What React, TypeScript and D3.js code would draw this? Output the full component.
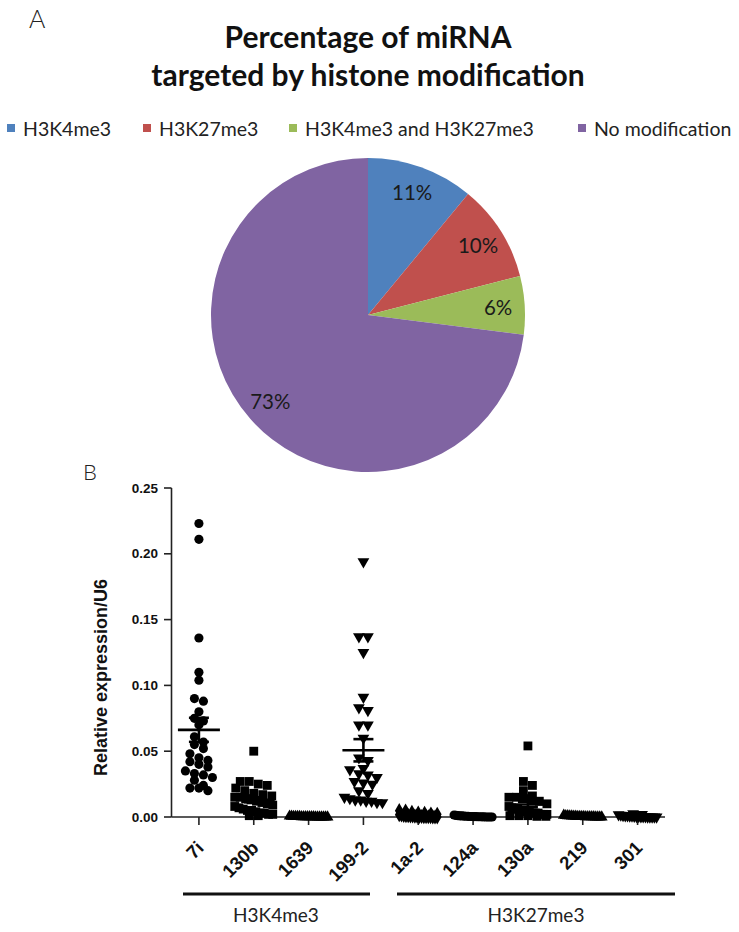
import React from 'react';
import * as d3 from 'd3';

// Panel A: pie
const pieNames = ['H3K4me3', 'H3K27me3', 'H3K4me3 and H3K27me3', 'No modification'];
const piePercents = [11, 10, 6, 73];
const pieColors = ['#4F81BD', '#C0504D', '#9BBB59', '#8064A2'];

// Panel B: relative expression / U6 per miRNA
const mirNames = ['7i', '130b', '1639', '199-2', '1a-2', '124a', '130a', '219', '301'];
const mir7i = [0.223, 0.211, 0.136, 0.110, 0.104, 0.090, 0.088, 0.080, 0.075, 0.073, 0.070, 0.061, 0.057, 0.055, 0.052,
  0.048, 0.045, 0.043, 0.042, 0.040, 0.038, 0.035, 0.033, 0.032, 0.030, 0.028, 0.024, 0.022, 0.022, 0.020];
const mir130b = [0.050, 0.027, 0.027, 0.025, 0.024, 0.022, 0.020, 0.018, 0.017, 0.016, 0.015, 0.015, 0.014, 0.013, 0.012,
  0.011, 0.010, 0.009, 0.008, 0.007, 0.006, 0.005, 0.005, 0.004, 0.003, 0.003, 0.002, 0.002, 0.001, 0.001];
const mir1639 = [0.0006, 0.0005, 0.0004, 0.0004, 0.0003, 0.0003, 0.0002, 0.0002, 0.0002, 0.0001, 0.0001, 0.0001, 0.0001,
  0, 0, 0, 0, 0, 0, 0];
const mir199_2 = [0.194, 0.137, 0.137, 0.125, 0.091, 0.083, 0.081, 0.070, 0.070, 0.060, 0.045, 0.043, 0.037, 0.036, 0.033,
  0.032, 0.030, 0.027, 0.026, 0.025, 0.020, 0.018, 0.015, 0.014, 0.013, 0.013, 0.012, 0.012, 0.011, 0.011];
const mir1a2 = [0.0048, 0.0045, 0.0035, 0.003, 0.0028, 0.0022, 0.002, 0.0018, 0.0015, 0.0012, 0.001, 0.001, 0.0009, 0.0008,
  0.0007, 0.0006, 0.0005, 0.0004, 0.0003, 0.0003, 0.0002, 0.0002, 0.0001, 0, 0];
const mir124a = [0.0015, 0.0012, 0.001, 0.0009, 0.0008, 0.0007, 0.0006, 0.0005, 0.0004, 0.0004, 0.0003, 0.0003, 0.0002,
  0.0002, 0.0001, 0.0001, 0, 0, 0, 0];
const mir130a = [0.054, 0.027, 0.024, 0.020, 0.016, 0.015, 0.015, 0.014, 0.013, 0.012, 0.010, 0.008, 0.007, 0.006, 0.006,
  0.005, 0.005, 0.004, 0.004, 0.003, 0.003, 0.003, 0.002, 0.002, 0.002, 0.001, 0.001, 0.001, 0.0005, 0.0005];
const mir219 = [0.0012, 0.001, 0.0009, 0.0008, 0.0007, 0.0006, 0.0005, 0.0004, 0.0004, 0.0003, 0.0003, 0.0002, 0.0002,
  0.0001, 0.0001, 0.0001, 0, 0, 0, 0];
const mir301 = [0.0025, 0.002, 0.0018, 0.0015, 0.0012, 0.001, 0.0009, 0.0008, 0.0007, 0.0006, 0.0005, 0.0004, 0.0003,
  0.0003, 0.0002, 0.0001, 0.0001, 0, 0, 0];
const mirValues = [mir7i, mir130b, mir1639, mir199_2, mir1a2, mir124a, mir130a, mir219, mir301];
const yTicks = [0, 0.05, 0.10, 0.15, 0.20, 0.25];
const groupNames = ['H3K4me3', 'H3K27me3'];

const symbolTypes = [d3.symbolCircle, d3.symbolSquare, d3.symbolTriangle, d3.symbolTriangle, d3.symbolDiamond];
const symbolSizes = [66, 78, 60, 60, 66];

// column scatter: points binned in rows, spread evenly, squeezed into maxHalf
function swarm(vals: number[], y: (v: number) => number, d: number, maxHalf: number) {
  const xs = new Array(vals.length).fill(0);
  const rows = d3.group(vals.map((v, i) => i), i => Math.round(y(vals[i]) / d));
  rows.forEach(idx => {
    const n = idx.length;
    const sp = n > 1 ? Math.min(d, (2 * maxHalf) / (n - 1)) : 0;
    idx.forEach((i, k) => { xs[i] = (k - (n - 1) / 2) * sp; });
  });
  return xs;
}

export default function App() {
  const font = 'Lato, "Open Sans", sans-serif';
  const arial = '"Liberation Sans", Arial, sans-serif';

  // pie
  const cx = 368, cy = 315, r = 157;
  const arcs = d3.pie<number>().sort(null).value(d => d)(piePercents);
  const arc = d3.arc<d3.PieArcDatum<number>>().innerRadius(0).outerRadius(r);
  const labelArc = d3.arc<d3.PieArcDatum<number>>().innerRadius(r * 0.83).outerRadius(r * 0.83);
  const legendX = [7, 143, 289, 578];

  // scatter
  const x = d3.scaleBand<string>().domain(mirNames).range([171.5, 665]);
  const y = d3.scaleLinear().domain([0, 0.25]).range([817, 488]);
  const bw = x.bandwidth();

  return (
    <svg width={739} height={932} style={{ position: 'absolute', left: 0, top: 0, background: '#fff' }}>
      <text x={29} y={28} fontFamily={font} fontSize={25} fontWeight={300} fill="#222">A</text>
      <text x={368} y={48} textAnchor="middle" fontFamily={font} fontSize={30} fontWeight="bold" fill="#111">Percentage of miRNA</text>
      <text x={368} y={86} textAnchor="middle" fontFamily={font} fontSize={30} fontWeight="bold" fill="#111">targeted by histone modification</text>

      {pieNames.map((n, i) => (
        <g key={n} transform={`translate(${legendX[i]},128)`}>
          <rect x={0} y={-4} width={8} height={8} fill={pieColors[i]} />
          <text x={16} y={0} dominantBaseline="central" fontFamily={font} fontSize={19.5} fill="#222">{n}</text>
        </g>
      ))}

      <g transform={`translate(${cx},${cy})`}>
        {arcs.map((a, i) => <path key={i} d={arc(a) || ''} fill={pieColors[i]} />)}
        {arcs.map((a, i) => {
          const [lx, ly] = labelArc.centroid(a);
          return <text key={'l' + i} x={lx} y={ly} textAnchor="middle" dominantBaseline="central"
            fontFamily={font} fontSize={20.5} fill="#1a1a1a">{a.data}%</text>;
        })}
      </g>

      <text x={83} y={480} fontFamily={font} fontSize={22} fontWeight={300} fill="#222">B</text>

      {/* y axis */}
      <line x1={171.5} x2={171.5} y1={y(0.25)} y2={y(0)} stroke="#222" strokeWidth={1.6} />
      {yTicks.map(t => (
        <g key={t}>
          <line x1={164} x2={171.5} y1={y(t)} y2={y(t)} stroke="#222" strokeWidth={1.6} />
          <text x={158} y={y(t)} textAnchor="end" dominantBaseline="central" fontFamily={arial} fontSize={13.5}
            fontWeight="bold" fill="#111">{d3.format('.2f')(t)}</text>
        </g>
      ))}
      <text transform={`translate(107,${(y(0) + y(0.25)) / 2 + 25}) rotate(-90)`} textAnchor="middle" fontFamily={arial}
        fontSize={18} fontWeight="bold" fill="#111">Relative expression/U6</text>

      {/* x axis */}
      <line x1={171.5} x2={665} y1={y(0)} y2={y(0)} stroke="#222" strokeWidth={1.6} />
      {mirNames.map(n => {
        const xc = (x(n) || 0) + bw / 2;
        return (
          <g key={n}>
            <line x1={xc} x2={xc} y1={y(0)} y2={y(0) + 8} stroke="#222" strokeWidth={1.6} />
            <text transform={`translate(${xc + 6},${y(0) + 32}) rotate(-45)`} textAnchor="end" fontFamily={arial}
              fontSize={18.5} fontWeight="bold" fill="#111">{n}</text>
          </g>
        );
      })}

      {/* points */}
      {mirValues.map((vals, gi) => {
        const xc = (x(mirNames[gi]) || 0) + bw / 2;
        const offs = swarm(vals, y, 9, 19);
        const sym = d3.symbol().type(symbolTypes[gi % 5]).size(symbolSizes[gi % 5])() || '';
        const rot = gi % 5 === 3 ? 180 : 0;
        const m = d3.mean(vals) || 0;
        const sem = (d3.deviation(vals) || 0) / Math.sqrt(vals.length);
        return (
          <g key={gi}>
            {vals.map((v, i) => (
              <path key={i} d={sym} fill="#000" transform={`translate(${xc + offs[i]},${y(v)}) rotate(${rot})`} />
            ))}
            <line x1={xc - 21} x2={xc + 21} y1={y(m)} y2={y(m)} stroke="#000" strokeWidth={2.6} />
            <line x1={xc} x2={xc} y1={y(m + sem)} y2={y(Math.max(0, m - sem))} stroke="#000" strokeWidth={2.6} />
            <line x1={xc - 10} x2={xc + 10} y1={y(m + sem)} y2={y(m + sem)} stroke="#000" strokeWidth={2.6} />
            <line x1={xc - 10} x2={xc + 10} y1={y(Math.max(0, m - sem))} y2={y(Math.max(0, m - sem))} stroke="#000" strokeWidth={2.6} />
          </g>
        );
      })}

      {/* group annotation */}
      <line x1={183} x2={370} y1={894} y2={894} stroke="#111" strokeWidth={3} />
      <line x1={397} x2={675} y1={894} y2={894} stroke="#111" strokeWidth={3} />
      <text x={276} y={922} textAnchor="middle" fontFamily={font} fontSize={19} fill="#222">{groupNames[0]}</text>
      <text x={536} y={922} textAnchor="middle" fontFamily={font} fontSize={19} fill="#222">{groupNames[1]}</text>
    </svg>
  );
}
